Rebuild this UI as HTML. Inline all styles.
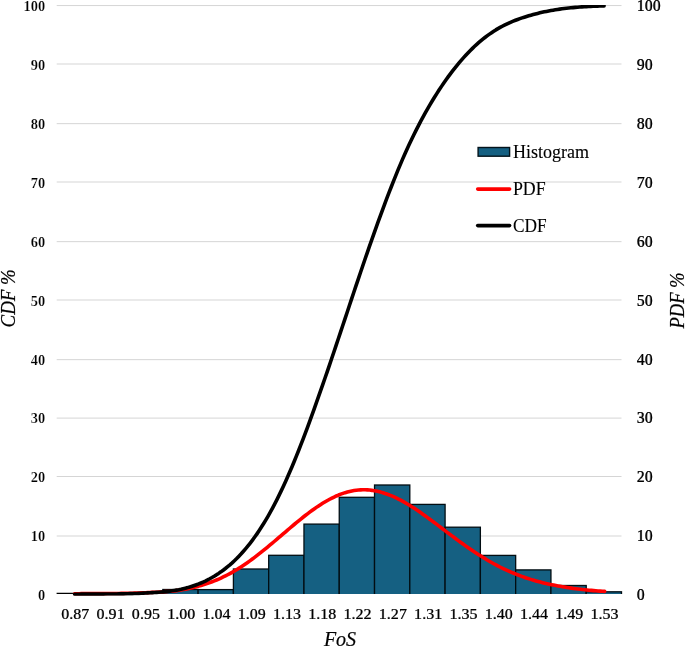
<!DOCTYPE html><html><head><meta charset="utf-8"><style>html,body{margin:0;padding:0;background:#fff;}svg{display:block;will-change:transform;}text{font-family:"Liberation Serif",serif;fill:#000;}</style></head><body>
<svg width="685" height="647" viewBox="0 0 685 647">
<rect width="685" height="647" fill="#fff"/>
<line x1="56.70" x2="621.50" y1="536.00" y2="536.00" stroke="#d5d5d5" stroke-width="1.0"/>
<line x1="56.70" x2="621.50" y1="476.50" y2="476.50" stroke="#d5d5d5" stroke-width="1.0"/>
<line x1="56.70" x2="621.50" y1="418.10" y2="418.10" stroke="#d5d5d5" stroke-width="1.0"/>
<line x1="56.70" x2="621.50" y1="359.65" y2="359.65" stroke="#d5d5d5" stroke-width="1.0"/>
<line x1="56.70" x2="621.50" y1="300.00" y2="300.00" stroke="#d5d5d5" stroke-width="1.0"/>
<line x1="56.70" x2="621.50" y1="241.65" y2="241.65" stroke="#d5d5d5" stroke-width="1.0"/>
<line x1="56.70" x2="621.50" y1="182.00" y2="182.00" stroke="#d5d5d5" stroke-width="1.0"/>
<line x1="56.70" x2="621.50" y1="123.65" y2="123.65" stroke="#d5d5d5" stroke-width="1.0"/>
<line x1="56.70" x2="621.50" y1="64.00" y2="64.00" stroke="#d5d5d5" stroke-width="1.0"/>
<line x1="56.70" x2="621.50" y1="5.55" y2="5.55" stroke="#d5d5d5" stroke-width="1.0"/>
<line x1="56.60" x2="163.14" y1="593.40" y2="593.40" stroke="#000" stroke-width="1.1"/>
<clipPath id="pc"><rect x="0" y="0" width="685" height="593.90"/></clipPath>
<g clip-path="url(#pc)">
<rect x="162.84" y="589.50" width="35.28" height="7.40" fill="#156082" stroke="#020d12" stroke-width="1.30"/>
<rect x="198.12" y="589.60" width="35.28" height="7.30" fill="#156082" stroke="#020d12" stroke-width="1.30"/>
<rect x="233.41" y="569.00" width="35.28" height="27.90" fill="#156082" stroke="#020d12" stroke-width="1.30"/>
<rect x="268.69" y="555.30" width="35.28" height="41.60" fill="#156082" stroke="#020d12" stroke-width="1.30"/>
<rect x="303.97" y="524.10" width="35.28" height="72.80" fill="#156082" stroke="#020d12" stroke-width="1.30"/>
<rect x="339.25" y="497.30" width="35.28" height="99.60" fill="#156082" stroke="#020d12" stroke-width="1.30"/>
<rect x="374.53" y="485.00" width="35.28" height="111.90" fill="#156082" stroke="#020d12" stroke-width="1.30"/>
<rect x="409.81" y="504.40" width="35.28" height="92.50" fill="#156082" stroke="#020d12" stroke-width="1.30"/>
<rect x="445.09" y="527.20" width="35.28" height="69.70" fill="#156082" stroke="#020d12" stroke-width="1.30"/>
<rect x="480.38" y="555.40" width="35.28" height="41.50" fill="#156082" stroke="#020d12" stroke-width="1.30"/>
<rect x="515.66" y="569.90" width="35.28" height="27.00" fill="#156082" stroke="#020d12" stroke-width="1.30"/>
<rect x="550.94" y="585.50" width="35.28" height="11.40" fill="#156082" stroke="#020d12" stroke-width="1.30"/>
<rect x="586.22" y="591.80" width="35.28" height="5.10" fill="#156082" stroke="#020d12" stroke-width="1.30"/>
</g>
<clipPath id="lc"><rect x="0" y="5.00" width="685" height="590.80"/></clipPath>
<g clip-path="url(#lc)">
<path d="M74.64 593.68 L76.86 593.68 L79.08 593.68 L81.29 593.67 L83.51 593.67 L85.73 593.67 L87.95 593.66 L90.16 593.65 L92.38 593.65 L94.60 593.64 L96.82 593.63 L99.03 593.62 L101.25 593.61 L103.47 593.60 L105.69 593.58 L107.91 593.56 L110.12 593.55 L112.34 593.52 L114.56 593.50 L116.78 593.47 L118.99 593.44 L121.21 593.41 L123.43 593.37 L125.65 593.33 L127.86 593.29 L130.08 593.24 L132.30 593.18 L134.52 593.12 L136.73 593.05 L138.95 592.98 L141.17 592.89 L143.39 592.80 L145.61 592.70 L147.82 592.60 L150.04 592.48 L152.26 592.40 L154.48 592.31 L156.69 592.22 L158.91 592.10 L161.13 591.97 L163.35 591.83 L165.56 591.67 L167.78 591.50 L170.00 591.30 L172.22 591.09 L174.43 590.85 L176.65 590.59 L178.87 590.31 L181.09 589.98 L183.31 589.60 L185.52 589.19 L187.74 588.75 L189.96 588.28 L192.18 587.78 L194.39 587.25 L196.61 586.69 L198.83 586.09 L201.05 585.46 L203.26 584.80 L205.48 584.09 L207.70 583.35 L209.92 582.57 L212.14 581.75 L214.35 580.89 L216.57 579.99 L218.79 579.04 L221.01 578.04 L223.22 576.99 L225.44 575.90 L227.66 574.76 L229.88 573.57 L232.09 572.33 L234.31 571.05 L236.53 569.72 L238.75 568.35 L240.96 566.94 L243.18 565.48 L245.40 563.98 L247.62 562.44 L249.84 560.87 L252.05 559.25 L254.27 557.60 L256.49 555.92 L258.71 554.20 L260.92 552.46 L263.14 550.69 L265.36 548.89 L267.58 547.07 L269.79 545.23 L272.01 543.38 L274.23 541.50 L276.45 539.62 L278.66 537.73 L280.88 535.83 L283.10 533.93 L285.32 532.03 L287.54 530.13 L289.75 528.25 L291.97 526.37 L294.19 524.50 L296.41 522.66 L298.62 520.83 L300.84 519.03 L303.06 517.26 L305.28 515.52 L307.49 513.81 L309.71 512.14 L311.93 510.51 L314.15 508.92 L316.36 507.38 L318.58 505.89 L320.80 504.45 L323.02 503.06 L325.24 501.73 L327.45 500.46 L329.67 499.25 L331.89 498.10 L334.11 497.01 L336.32 495.99 L338.54 495.05 L340.76 494.18 L342.98 493.38 L345.19 492.66 L347.41 492.02 L349.63 491.46 L351.85 490.99 L354.06 490.59 L356.28 490.27 L358.50 490.04 L360.72 489.88 L362.94 489.81 L365.15 489.82 L367.37 489.91 L369.59 490.08 L371.81 490.34 L374.02 490.66 L376.24 491.07 L378.46 491.55 L380.68 492.11 L382.89 492.74 L385.11 493.44 L387.33 494.21 L389.55 495.05 L391.76 495.96 L393.98 496.93 L396.20 497.96 L398.42 499.05 L400.64 500.20 L402.85 501.40 L405.07 502.65 L407.29 503.95 L409.51 505.29 L411.72 506.68 L413.94 508.11 L416.16 509.57 L418.38 511.07 L420.59 512.60 L422.81 514.16 L425.03 515.74 L427.25 517.35 L429.46 518.97 L431.68 520.61 L433.90 522.26 L436.12 523.93 L438.34 525.60 L440.55 527.28 L442.77 528.96 L444.99 530.64 L447.21 532.32 L449.42 533.99 L451.64 535.65 L453.86 537.31 L456.08 538.96 L458.29 540.59 L460.51 542.21 L462.73 543.81 L464.95 545.39 L467.16 546.95 L469.38 548.49 L471.60 550.01 L473.82 551.51 L476.04 552.98 L478.25 554.42 L480.47 555.84 L482.69 557.23 L484.91 558.59 L487.12 559.92 L489.34 561.22 L491.56 562.49 L493.78 563.73 L495.99 564.94 L498.21 566.12 L500.43 567.26 L502.65 568.34 L504.87 569.39 L507.08 570.41 L509.30 571.40 L511.52 572.35 L513.74 573.28 L515.95 574.17 L518.17 575.04 L520.39 575.87 L522.61 576.67 L524.82 577.45 L527.04 578.19 L529.26 578.91 L531.48 579.60 L533.69 580.26 L535.91 580.90 L538.13 581.51 L540.35 582.09 L542.57 582.65 L544.78 583.18 L547.00 583.69 L549.22 584.18 L551.44 584.65 L553.65 585.09 L555.87 585.51 L558.09 585.92 L560.31 586.30 L562.52 586.70 L564.74 587.08 L566.96 587.44 L569.18 587.78 L571.39 588.11 L573.61 588.42 L575.83 588.71 L578.05 588.99 L580.27 589.26 L582.48 589.51 L584.70 589.75 L586.92 589.98 L589.14 590.19 L591.35 590.39 L593.57 590.59 L595.79 590.77 L598.01 590.94 L600.22 591.10 L602.44 591.26 L604.66 591.40" fill="none" stroke="#ff0000" stroke-width="3.60" stroke-linecap="round" stroke-linejoin="round"/>
<path d="M74.64 594.18 L76.86 594.18 L79.07 594.18 L81.29 594.17 L83.50 594.17 L85.72 594.16 L87.93 594.16 L90.15 594.15 L92.36 594.14 L94.58 594.13 L96.79 594.12 L99.01 594.11 L101.22 594.10 L103.44 594.09 L105.65 594.07 L107.87 594.05 L110.08 594.03 L112.30 594.00 L114.51 593.98 L116.73 593.95 L118.94 593.91 L121.16 593.88 L123.37 593.83 L125.59 593.79 L127.80 593.73 L130.02 593.67 L132.23 593.61 L134.45 593.53 L136.66 593.45 L138.88 593.36 L141.09 593.26 L143.31 593.16 L145.53 593.03 L147.74 592.90 L149.96 592.76 L152.17 592.65 L154.39 592.52 L156.60 592.38 L158.82 592.22 L161.03 592.04 L163.25 591.84 L165.46 591.62 L167.68 591.38 L169.89 591.11 L172.11 590.81 L174.32 590.48 L176.54 590.12 L178.75 589.73 L180.97 589.28 L183.18 588.76 L185.40 588.20 L187.61 587.61 L189.83 586.96 L192.04 586.27 L194.26 585.53 L196.47 584.74 L198.69 583.90 L200.90 583.00 L203.12 582.03 L205.33 581.01 L207.55 579.92 L209.76 578.76 L211.98 577.53 L214.20 576.23 L216.42 574.85 L218.65 573.39 L220.89 571.85 L223.14 570.22 L225.39 568.51 L227.64 566.70 L229.90 564.80 L232.16 562.81 L234.42 560.71 L236.68 558.52 L238.94 556.22 L241.20 553.82 L243.46 551.30 L245.72 548.68 L247.98 545.94 L250.23 543.10 L252.48 540.13 L254.72 537.05 L256.97 533.85 L259.20 530.53 L261.44 527.09 L263.66 523.53 L265.89 519.84 L268.11 516.04 L270.32 512.11 L272.53 508.06 L274.74 503.88 L276.94 499.59 L279.13 495.17 L281.32 490.64 L283.51 485.98 L285.69 481.21 L287.87 476.32 L290.05 471.32 L292.22 466.21 L294.39 460.99 L296.56 455.66 L298.73 450.22 L300.90 444.69 L303.07 439.06 L305.24 433.33 L307.41 427.52 L309.59 421.61 L311.76 415.63 L313.95 409.57 L316.13 403.43 L318.33 397.22 L320.53 390.95 L322.74 384.62 L324.95 378.23 L327.17 371.79 L329.38 365.31 L331.60 358.78 L333.81 352.22 L336.03 345.64 L338.24 339.03 L340.46 332.40 L342.67 325.75 L344.89 319.10 L347.10 312.45 L349.32 305.79 L351.53 299.15 L353.75 292.52 L355.96 285.91 L358.18 279.32 L360.39 272.76 L362.61 266.24 L364.82 259.75 L367.04 253.31 L369.25 246.91 L371.47 240.57 L373.68 234.28 L375.90 228.06 L378.11 221.90 L380.33 215.80 L382.55 209.78 L384.76 203.84 L386.98 197.98 L389.19 192.19 L391.41 186.50 L393.62 180.89 L395.84 175.37 L398.05 169.94 L400.27 164.61 L402.49 159.38 L404.74 154.25 L407.00 149.22 L409.28 144.29 L411.56 139.46 L413.86 134.74 L416.16 130.12 L418.47 125.61 L420.78 121.21 L423.09 116.91 L425.41 112.72 L427.72 108.64 L430.03 104.66 L432.34 100.79 L434.64 97.03 L436.94 93.37 L439.23 89.82 L441.51 86.37 L443.79 83.03 L446.06 79.79 L448.31 76.65 L450.56 73.61 L452.80 70.66 L455.03 67.82 L457.24 65.07 L459.45 62.42 L461.65 59.85 L463.83 57.38 L466.01 55.00 L468.18 52.70 L470.34 50.49 L472.49 48.37 L474.63 46.32 L476.76 44.35 L478.89 42.47 L481.02 40.65 L483.14 38.91 L485.26 37.24 L487.37 35.65 L489.49 34.11 L491.61 32.65 L493.73 31.25 L495.85 29.90 L497.98 28.62 L500.12 27.40 L502.27 26.23 L504.44 25.11 L506.62 24.05 L508.81 23.04 L511.02 22.07 L513.24 21.15 L515.45 20.28 L517.67 19.45 L519.88 18.66 L522.10 17.90 L524.31 17.17 L526.53 16.47 L528.74 15.80 L530.96 15.15 L533.17 14.53 L535.39 13.94 L537.61 13.38 L539.82 12.84 L542.04 12.33 L544.25 11.85 L546.47 11.39 L548.68 10.96 L550.90 10.55 L553.11 10.16 L555.33 9.79 L557.54 9.45 L559.76 9.13 L561.97 8.83 L564.19 8.55 L566.40 8.28 L568.62 8.04 L570.83 7.81 L573.05 7.59 L575.26 7.39 L577.48 7.21 L579.69 7.04 L581.91 6.88 L584.12 6.74 L586.34 6.60 L588.55 6.48 L590.77 6.37 L592.98 6.26 L595.20 6.17 L597.41 6.08 L599.63 6.00 L601.84 5.93 L604.06 5.87" fill="none" stroke="#000" stroke-width="3.60" stroke-linecap="round" stroke-linejoin="round"/>
</g>
<text transform="translate(45.20,600.00)" font-size="14.40" text-anchor="end" stroke="#fff" stroke-width="0.20" font-weight="bold">0</text>
<text transform="translate(636.80,600.10)" font-size="16.00" text-anchor="start" stroke="#000" stroke-width="0.10">0</text>
<text transform="translate(636.80,600.10)" font-size="16.00" text-anchor="start" font-weight="bold" fill-opacity="0.42" aria-hidden="true">0</text>
<text transform="translate(45.20,541.13)" font-size="14.40" text-anchor="end" stroke="#fff" stroke-width="0.20" font-weight="bold">10</text>
<text transform="translate(636.80,541.23)" font-size="16.00" text-anchor="start" stroke="#000" stroke-width="0.10">10</text>
<text transform="translate(636.80,541.23)" font-size="16.00" text-anchor="start" font-weight="bold" fill-opacity="0.42" aria-hidden="true">10</text>
<text transform="translate(45.20,482.26)" font-size="14.40" text-anchor="end" stroke="#fff" stroke-width="0.20" font-weight="bold">20</text>
<text transform="translate(636.80,482.36)" font-size="16.00" text-anchor="start" stroke="#000" stroke-width="0.10">20</text>
<text transform="translate(636.80,482.36)" font-size="16.00" text-anchor="start" font-weight="bold" fill-opacity="0.42" aria-hidden="true">20</text>
<text transform="translate(45.20,423.39)" font-size="14.40" text-anchor="end" stroke="#fff" stroke-width="0.20" font-weight="bold">30</text>
<text transform="translate(636.80,423.49)" font-size="16.00" text-anchor="start" stroke="#000" stroke-width="0.10">30</text>
<text transform="translate(636.80,423.49)" font-size="16.00" text-anchor="start" font-weight="bold" fill-opacity="0.42" aria-hidden="true">30</text>
<text transform="translate(45.20,364.52)" font-size="14.40" text-anchor="end" stroke="#fff" stroke-width="0.20" font-weight="bold">40</text>
<text transform="translate(636.80,364.62)" font-size="16.00" text-anchor="start" stroke="#000" stroke-width="0.10">40</text>
<text transform="translate(636.80,364.62)" font-size="16.00" text-anchor="start" font-weight="bold" fill-opacity="0.42" aria-hidden="true">40</text>
<text transform="translate(45.20,305.65)" font-size="14.40" text-anchor="end" stroke="#fff" stroke-width="0.20" font-weight="bold">50</text>
<text transform="translate(636.80,305.75)" font-size="16.00" text-anchor="start" stroke="#000" stroke-width="0.10">50</text>
<text transform="translate(636.80,305.75)" font-size="16.00" text-anchor="start" font-weight="bold" fill-opacity="0.42" aria-hidden="true">50</text>
<text transform="translate(45.20,246.78)" font-size="14.40" text-anchor="end" stroke="#fff" stroke-width="0.20" font-weight="bold">60</text>
<text transform="translate(636.80,246.88)" font-size="16.00" text-anchor="start" stroke="#000" stroke-width="0.10">60</text>
<text transform="translate(636.80,246.88)" font-size="16.00" text-anchor="start" font-weight="bold" fill-opacity="0.42" aria-hidden="true">60</text>
<text transform="translate(45.20,187.91)" font-size="14.40" text-anchor="end" stroke="#fff" stroke-width="0.20" font-weight="bold">70</text>
<text transform="translate(636.80,188.01)" font-size="16.00" text-anchor="start" stroke="#000" stroke-width="0.10">70</text>
<text transform="translate(636.80,188.01)" font-size="16.00" text-anchor="start" font-weight="bold" fill-opacity="0.42" aria-hidden="true">70</text>
<text transform="translate(45.20,129.04)" font-size="14.40" text-anchor="end" stroke="#fff" stroke-width="0.20" font-weight="bold">80</text>
<text transform="translate(636.80,129.14)" font-size="16.00" text-anchor="start" stroke="#000" stroke-width="0.10">80</text>
<text transform="translate(636.80,129.14)" font-size="16.00" text-anchor="start" font-weight="bold" fill-opacity="0.42" aria-hidden="true">80</text>
<text transform="translate(45.20,70.17)" font-size="14.40" text-anchor="end" stroke="#fff" stroke-width="0.20" font-weight="bold">90</text>
<text transform="translate(636.80,70.27)" font-size="16.00" text-anchor="start" stroke="#000" stroke-width="0.10">90</text>
<text transform="translate(636.80,70.27)" font-size="16.00" text-anchor="start" font-weight="bold" fill-opacity="0.42" aria-hidden="true">90</text>
<text transform="translate(45.20,11.30)" font-size="14.40" text-anchor="end" stroke="#fff" stroke-width="0.20" font-weight="bold">100</text>
<text transform="translate(636.80,11.40)" font-size="16.00" text-anchor="start" stroke="#000" stroke-width="0.10">100</text>
<text transform="translate(636.80,11.40)" font-size="16.00" text-anchor="start" font-weight="bold" fill-opacity="0.42" aria-hidden="true">100</text>
<text transform="translate(75.34,618.80) scale(1.050,1)" font-size="15.30" text-anchor="middle" stroke="#000" stroke-width="0.12">0.87</text>
<text transform="translate(75.34,618.80) scale(1.050,1)" font-size="15.30" text-anchor="middle" font-weight="bold" fill-opacity="0.30" aria-hidden="true">0.87</text>
<text transform="translate(110.62,618.80) scale(1.050,1)" font-size="15.30" text-anchor="middle" stroke="#000" stroke-width="0.12">0.91</text>
<text transform="translate(110.62,618.80) scale(1.050,1)" font-size="15.30" text-anchor="middle" font-weight="bold" fill-opacity="0.30" aria-hidden="true">0.91</text>
<text transform="translate(145.90,618.80) scale(1.050,1)" font-size="15.30" text-anchor="middle" stroke="#000" stroke-width="0.12">0.95</text>
<text transform="translate(145.90,618.80) scale(1.050,1)" font-size="15.30" text-anchor="middle" font-weight="bold" fill-opacity="0.30" aria-hidden="true">0.95</text>
<text transform="translate(181.18,618.80) scale(1.050,1)" font-size="15.30" text-anchor="middle" stroke="#000" stroke-width="0.12">1.00</text>
<text transform="translate(181.18,618.80) scale(1.050,1)" font-size="15.30" text-anchor="middle" font-weight="bold" fill-opacity="0.30" aria-hidden="true">1.00</text>
<text transform="translate(216.47,618.80) scale(1.050,1)" font-size="15.30" text-anchor="middle" stroke="#000" stroke-width="0.12">1.04</text>
<text transform="translate(216.47,618.80) scale(1.050,1)" font-size="15.30" text-anchor="middle" font-weight="bold" fill-opacity="0.30" aria-hidden="true">1.04</text>
<text transform="translate(251.75,618.80) scale(1.050,1)" font-size="15.30" text-anchor="middle" stroke="#000" stroke-width="0.12">1.09</text>
<text transform="translate(251.75,618.80) scale(1.050,1)" font-size="15.30" text-anchor="middle" font-weight="bold" fill-opacity="0.30" aria-hidden="true">1.09</text>
<text transform="translate(287.03,618.80) scale(1.050,1)" font-size="15.30" text-anchor="middle" stroke="#000" stroke-width="0.12">1.13</text>
<text transform="translate(287.03,618.80) scale(1.050,1)" font-size="15.30" text-anchor="middle" font-weight="bold" fill-opacity="0.30" aria-hidden="true">1.13</text>
<text transform="translate(322.31,618.80) scale(1.050,1)" font-size="15.30" text-anchor="middle" stroke="#000" stroke-width="0.12">1.18</text>
<text transform="translate(322.31,618.80) scale(1.050,1)" font-size="15.30" text-anchor="middle" font-weight="bold" fill-opacity="0.30" aria-hidden="true">1.18</text>
<text transform="translate(357.59,618.80) scale(1.050,1)" font-size="15.30" text-anchor="middle" stroke="#000" stroke-width="0.12">1.22</text>
<text transform="translate(357.59,618.80) scale(1.050,1)" font-size="15.30" text-anchor="middle" font-weight="bold" fill-opacity="0.30" aria-hidden="true">1.22</text>
<text transform="translate(392.87,618.80) scale(1.050,1)" font-size="15.30" text-anchor="middle" stroke="#000" stroke-width="0.12">1.27</text>
<text transform="translate(392.87,618.80) scale(1.050,1)" font-size="15.30" text-anchor="middle" font-weight="bold" fill-opacity="0.30" aria-hidden="true">1.27</text>
<text transform="translate(428.15,618.80) scale(1.050,1)" font-size="15.30" text-anchor="middle" stroke="#000" stroke-width="0.12">1.31</text>
<text transform="translate(428.15,618.80) scale(1.050,1)" font-size="15.30" text-anchor="middle" font-weight="bold" fill-opacity="0.30" aria-hidden="true">1.31</text>
<text transform="translate(463.43,618.80) scale(1.050,1)" font-size="15.30" text-anchor="middle" stroke="#000" stroke-width="0.12">1.35</text>
<text transform="translate(463.43,618.80) scale(1.050,1)" font-size="15.30" text-anchor="middle" font-weight="bold" fill-opacity="0.30" aria-hidden="true">1.35</text>
<text transform="translate(498.72,618.80) scale(1.050,1)" font-size="15.30" text-anchor="middle" stroke="#000" stroke-width="0.12">1.40</text>
<text transform="translate(498.72,618.80) scale(1.050,1)" font-size="15.30" text-anchor="middle" font-weight="bold" fill-opacity="0.30" aria-hidden="true">1.40</text>
<text transform="translate(534.00,618.80) scale(1.050,1)" font-size="15.30" text-anchor="middle" stroke="#000" stroke-width="0.12">1.44</text>
<text transform="translate(534.00,618.80) scale(1.050,1)" font-size="15.30" text-anchor="middle" font-weight="bold" fill-opacity="0.30" aria-hidden="true">1.44</text>
<text transform="translate(569.28,618.80) scale(1.050,1)" font-size="15.30" text-anchor="middle" stroke="#000" stroke-width="0.12">1.49</text>
<text transform="translate(569.28,618.80) scale(1.050,1)" font-size="15.30" text-anchor="middle" font-weight="bold" fill-opacity="0.30" aria-hidden="true">1.49</text>
<text transform="translate(604.56,618.80) scale(1.050,1)" font-size="15.30" text-anchor="middle" stroke="#000" stroke-width="0.12">1.53</text>
<text transform="translate(604.56,618.80) scale(1.050,1)" font-size="15.30" text-anchor="middle" font-weight="bold" fill-opacity="0.30" aria-hidden="true">1.53</text>
<text transform="translate(340.00,645.80)" font-size="20.00" text-anchor="middle" font-style="italic" stroke="#000" stroke-width="0.20">FoS</text>
<text transform="translate(14.50,298.40) rotate(-90) scale(0.942,1)" font-size="20.00" text-anchor="middle" font-style="italic" stroke="#000" stroke-width="0.20">CDF %</text>
<text transform="translate(684.00,300.50) rotate(-90) scale(0.928,1)" font-size="20.00" text-anchor="middle" font-style="italic" stroke="#000" stroke-width="0.20">PDF %</text>
<rect x="478.1" y="147.5" width="31.5" height="8.7" fill="#156082" stroke="#03131b" stroke-width="1.4"/>
<text transform="translate(512.90,158.00) scale(0.975,1)" font-size="18.50" text-anchor="start" stroke="#000" stroke-width="0.12">Histogram</text>
<line x1="477.7" x2="509.6" y1="189.1" y2="189.1" stroke="#ff0000" stroke-width="3.60" stroke-linecap="round"/>
<text transform="translate(512.90,195.00) scale(0.965,1)" font-size="18.50" text-anchor="start" stroke="#000" stroke-width="0.12">PDF</text>
<line x1="477.7" x2="509.6" y1="225.6" y2="225.6" stroke="#000" stroke-width="3.60" stroke-linecap="round"/>
<text transform="translate(512.90,231.70) scale(0.935,1)" font-size="18.50" text-anchor="start" stroke="#000" stroke-width="0.12">CDF</text>
</svg></body></html>
